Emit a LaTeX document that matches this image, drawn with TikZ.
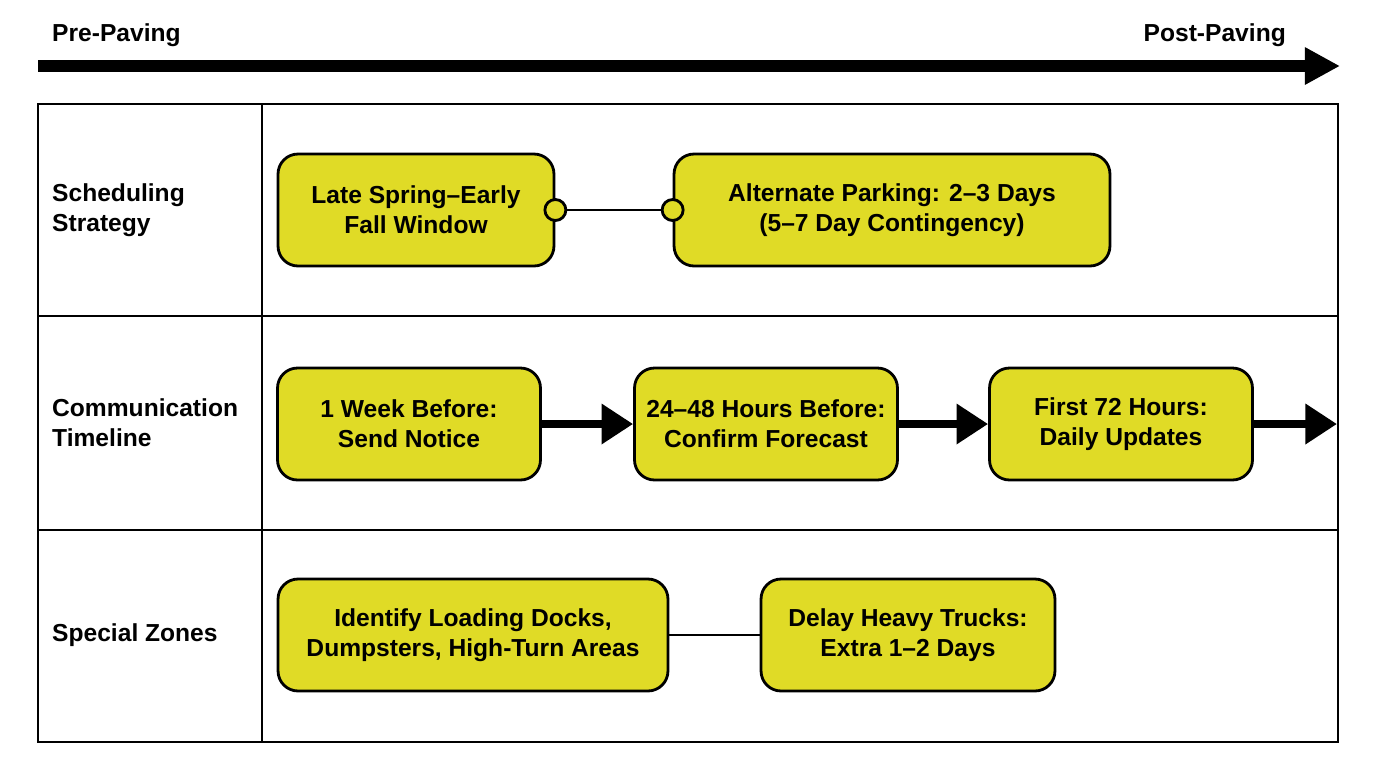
\documentclass[tikz,border=0pt]{standalone}
\usepackage{fontspec}
\setmainfont{Liberation Sans}
\usetikzlibrary{arrows.meta}
\definecolor{boxy}{RGB}{224,219,38}
\begin{document}
\begin{tikzpicture}[x=0.02cm,y=-0.02cm,
  box/.style={draw=black,line width=1.6pt,fill=boxy,rounded corners=0.4cm,align=center,font=\fontsize{14}{17}\selectfont\bfseries},
  lab/.style={anchor=west,align=left,font=\fontsize{14}{17}\selectfont\bfseries},
  mid/.style={line width=5pt,-{Triangle[length=18pt,width=22pt]}}]
\useasboundingbox (0,0) rectangle (1376,768);
% timeline
\node[lab] (pre) at (46,35) {Pre-Paving};
\node[anchor=east,font=\fontsize{14}{17}\selectfont\bfseries] (post) at (1292,35) {Post-Paving};
\coordinate (ta) at (38,66); \coordinate (tb) at (1340,66);
\draw[line width=7pt,-{Triangle[length=20pt,width=20pt]}] (ta) -- (tb);
% table
\draw[line width=1.6pt] (38,104) rectangle (1338,742);
\draw[line width=1.6pt] (262,104) -- (262,742) (38,316) -- (1338,316) (38,530) -- (1338,530);
\node[lab] (l1) at (46,210) {Scheduling\\Strategy};
\node[lab] (l2) at (46,423) {Communication\\Timeline};
\node[lab] (l3) at (46,635) {Special Zones};
% row1
\node[box,minimum width=5.52cm,minimum height=2.24cm] (a1) at (416,210) {Late Spring--Early\\Fall Window};
\node[box,minimum width=8.72cm,minimum height=2.24cm] (a2) at (892,210) {Alternate Parking: 2--3 Days\\(5--7 Day Contingency)};
\draw[line width=1.2pt] (a1.east) -- (a2.west);
\draw[line width=1.6pt,fill=boxy] (a1.east) circle (0.21cm) (a2.west) circle (0.21cm);
% row2
\node[box,minimum width=5.26cm,minimum height=2.24cm] (b1) at (409,424) {1 Week Before:\\Send Notice};
\node[box,minimum width=5.26cm,minimum height=2.24cm] (b2) at (766,424) {24--48 Hours Before:\\Confirm Forecast};
\node[box,minimum width=5.26cm,minimum height=2.24cm] (b3) at (1121,424) {First 72 Hours:\\Daily Updates};
\coordinate (bend) at (1337,424);
\draw[mid] (b1.east) -- (b2.west);
\draw[mid] (b2.east) -- (b3.west);
\draw[mid] (b3.east) -- (bend);
% row3
\node[box,minimum width=7.8cm,minimum height=2.24cm] (c1) at (473,635) {Identify Loading Docks,\\Dumpsters, High-Turn Areas};
\node[box,minimum width=5.88cm,minimum height=2.24cm] (c2) at (908,635) {Delay Heavy Trucks:\\Extra 1--2 Days};
\draw[line width=1.4pt] (c1.east) -- (c2.west);
\end{tikzpicture}
\end{document}
